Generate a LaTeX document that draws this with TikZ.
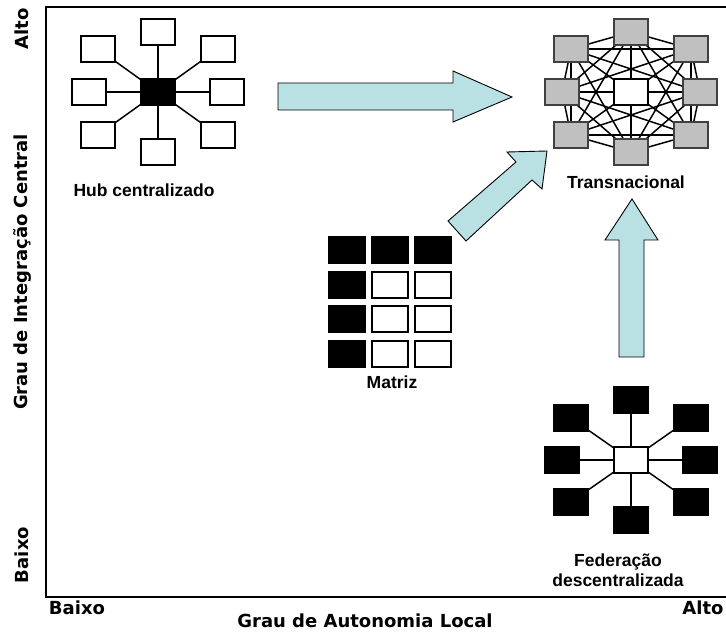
\documentclass[tikz,border=0pt]{standalone}
\usepackage{fontspec}
\setmainfont{Liberation Sans}
\newfontfamily\axisfont{DejaVu Sans}
\usetikzlibrary{backgrounds}

\definecolor{arrowblue}{RGB}{185,224,227}
\definecolor{boxgray}{RGB}{192,192,192}

\tikzset{
  unitbox/.style={draw, line width=1.4pt, minimum width=34pt, minimum height=26pt, inner sep=0pt},
  whitebox/.style={unitbox, fill=white},
  blackbox/.style={unitbox, fill=black},
  graybox/.style={unitbox, fill=boxgray, draw=black!75},
  grouptext/.style={font=\fontsize{17.5}{20}\selectfont\bfseries, align=center},
  axistext/.style={font=\axisfont\fontsize{18}{20}\selectfont\bfseries},
  bigarrow/.style={draw, fill=arrowblue, line width=0.9pt, line join=miter},
  link/.style={line width=1.5pt}
}

\begin{document}
\begin{tikzpicture}[x=1pt, y=-1pt]
\useasboundingbox (0,0) rectangle (726,636);

% frame
\draw[line width=1.4pt] (726,7) -- (46,7) -- (46,597) -- (726,597);

% axis texts
\node[axistext, rotate=90] (yhigh) at (22,29) {Alto};
\node[axistext, rotate=90] (ytitle) at (22,272) {Grau de Integração Central};
\node[axistext, rotate=90] (ylow) at (22,555) {Baixo};
\node[axistext] (xlow) at (77,608) {Baixo};
\node[axistext] (xtitle) at (365,621) {Grau de Autonomia Local};
\node[axistext] (xhigh) at (703,608) {Alto};

% hub centralizado
\node[blackbox] (hubc) at (158,92) {};
\foreach \i/\dx/\dy in {1/0/-60, 2/-60/-43, 3/-69/0, 4/-60/43, 5/0/60, 6/60/43, 7/69/0, 8/60/-43} {
  \node[whitebox] (hub\i) at ([shift={(\dx,\dy)}]hubc) {};
  \draw[link] (hubc) -- (hub\i);
}
\node[grouptext] (hubtext) at (144,190) {Hub centralizado};

% transnacional
\node[whitebox] (trc) at (631,92) {};
\foreach \i/\dx/\dy in {1/0/-60, 2/-60/-43, 3/-69/0, 4/-60/43, 5/0/60, 6/60/43, 7/69/0, 8/60/-43}
  \node[graybox] (tr\i) at ([shift={(\dx,\dy)}]trc) {};
\begin{pgfonlayer}{background}
\foreach \i in {1,...,7}
  \foreach \j in {\i,...,8} {
    \ifnum\i<\j \draw[link] (tr\i.center) -- (tr\j.center); \fi
  }
\end{pgfonlayer}
\node[grouptext] (trtext) at (626,182) {Transnacional};

% matriz
\foreach \r/\y in {1/250,2/285,3/319,4/354}
  \foreach \c/\x in {1/347,2/390,3/433} {
    \ifnum\numexpr(\r-1)*(\c-1)\relax=0 \def\cellstyle{blackbox}\else\def\cellstyle{whitebox}\fi
    \node[\cellstyle, minimum width=36pt] (mat\r\c) at (\x,\y) {};
  }
\node[grouptext] (mattext) at (392,382) {Matriz};

% federacao descentralizada
\node[whitebox] (fedc) at (631,460) {};
\foreach \i/\dx/\dy in {1/0/-60, 2/-60/-42, 3/-69/0, 4/-60/42, 5/0/60, 6/60/42, 7/69/0, 8/60/-42} {
  \node[blackbox] (fed\i) at ([shift={(\dx,\dy)}]fedc) {};
  \draw[link] (fedc) -- (fed\i);
}
\node[grouptext] (fedtext) at (618,570) {Federação\\descentralizada};

% big arrows
\draw[bigarrow] (278,83) -- (453,83) -- (453,71) -- (512,97) -- (453,122) -- (453,110) -- (278,110) -- cycle;
\draw[bigarrow] (448,221) -- (516,162) -- (507,152) -- (547,151) -- (542,189) -- (532,180) -- (466,241) -- cycle;
\draw[bigarrow] (619,357) -- (619,240) -- (605,240) -- (632,199) -- (658,240) -- (644,240) -- (644,357) -- cycle;
\end{tikzpicture}
\end{document}
